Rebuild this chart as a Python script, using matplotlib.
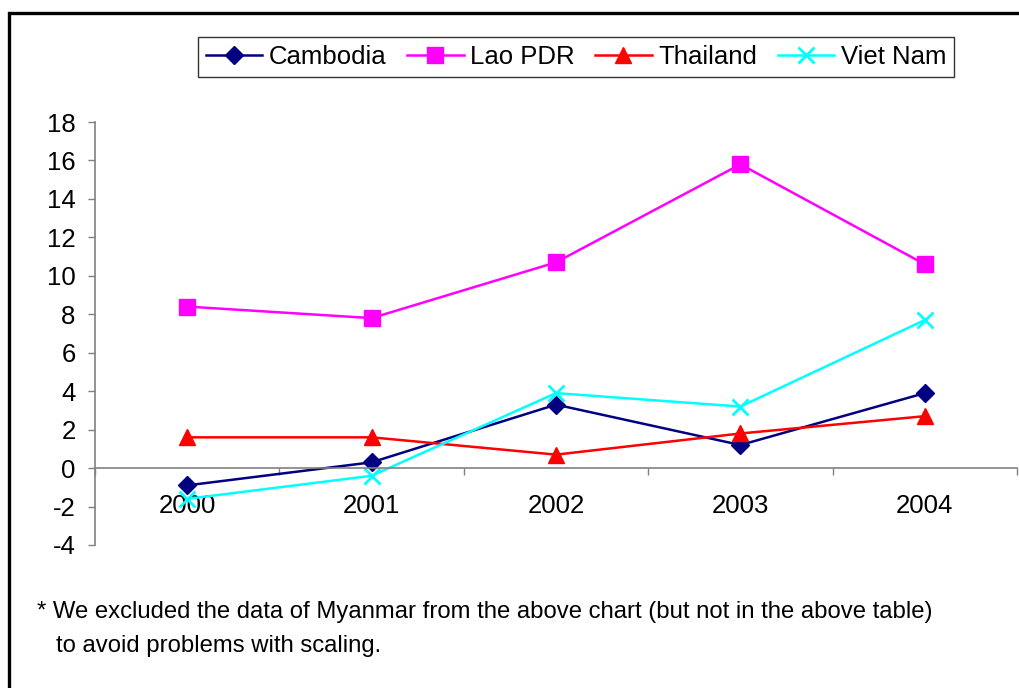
import matplotlib
matplotlib.use("Agg")
from matplotlib import pyplot as plt
from matplotlib.patches import Rectangle

years = ["2000", "2001", "2002", "2003", "2004"]
cambodia = [-0.9, 0.3, 3.3, 1.2, 3.9]
lao_pdr = [8.4, 7.8, 10.7, 15.8, 10.6]
thailand = [1.6, 1.6, 0.7, 1.8, 2.7]
viet_nam = [-1.6, -0.4, 3.9, 3.2, 7.7]

plt.rcParams["font.family"] = ["Liberation Sans", "DejaVu Sans"]
plt.rcParams["axes.unicode_minus"] = False

fig = plt.figure(figsize=(10.19, 6.88), dpi=100)
W, H = 1019, 688

# outer frame (runs off the right and bottom edges)
fig.patches.append(Rectangle((9 / W, -0.1), 1.2, (H - 13) / H + 0.1,
                             transform=fig.transFigure, fill=False,
                             edgecolor="black", linewidth=2.4))

ax = fig.add_axes([95 / W, (H - 545) / H, (1017 - 95) / W, (545 - 122) / H])
x = list(range(len(years)))

ax.plot(x, cambodia, color="#000080", linewidth=1.8, marker="D",
        markersize=9.5, label="Cambodia")
ax.plot(x, lao_pdr, color="#FF00FF", linewidth=1.8, marker="s",
        markersize=11, label="Lao PDR")
ax.plot(x, thailand, color="#FF0000", linewidth=1.8, marker="^",
        markersize=12, label="Thailand")
ax.plot(x, viet_nam, color="#00FFFF", linewidth=1.8, marker="x",
        markersize=11, markeredgewidth=2, label="Viet Nam")

ax.set_xlim(-0.5, 4.5)
ax.set_ylim(-4, 18)
ax.set_yticks(range(-4, 19, 2))

for s in ["top", "right"]:
    ax.spines[s].set_visible(False)
ax.spines["bottom"].set_position(("data", 0))
ax.spines["bottom"].set_color("#808080")
ax.spines["left"].set_color("#808080")
ax.spines["bottom"].set_linewidth(1.2)
ax.spines["left"].set_linewidth(1.2)

ax.set_xticks(x)
ax.set_xticklabels(years)
ax.set_xticks([i - 0.5 for i in range(len(years) + 1)], minor=True)
ax.tick_params(axis="x", which="major", length=0, pad=19, labelsize=18.5)
ax.tick_params(axis="x", which="minor", length=5, color="#808080", width=1)
ax.tick_params(axis="y", length=5, color="#808080", width=1, labelsize=18.5, pad=9)

leg = ax.legend(loc="center", bbox_to_anchor=(576 / W, (H - 57) / H),
                bbox_transform=fig.transFigure, ncol=4, fontsize=18.5,
                frameon=True, fancybox=False, handlelength=2.2,
                handletextpad=0.25, columnspacing=0.8, borderpad=0.3,
                borderaxespad=0)
leg.get_frame().set_edgecolor("black")
leg.get_frame().set_linewidth(1.0)

fig.text(37 / W, (H - 612) / H,
         "* We excluded the data of Myanmar from the above chart (but not in the above table)",
         fontsize=17.2, va="center", ha="left")
fig.text(56 / W, (H - 646) / H, "to avoid problems with scaling.",
         fontsize=17.2, va="center", ha="left")

fig.savefig("out.png", dpi=100)
